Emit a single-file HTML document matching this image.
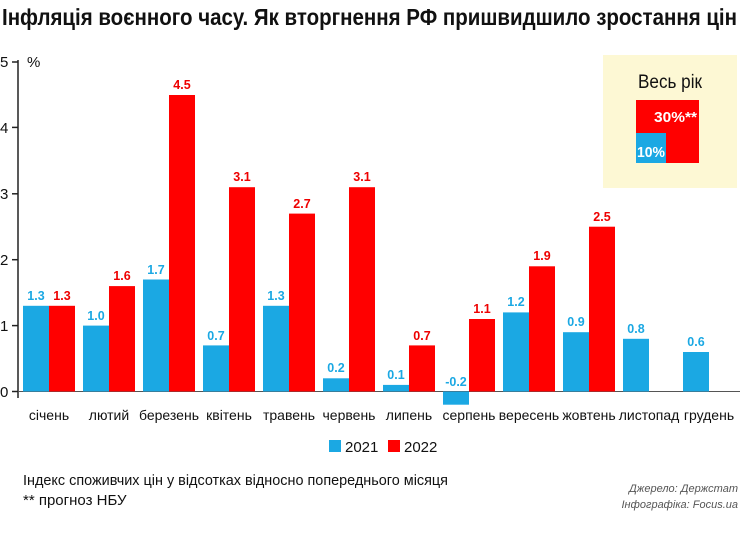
<!DOCTYPE html>
<html><head><meta charset="utf-8"><style>
html,body{margin:0;padding:0;background:#fff;}
svg{display:block;font-family:"Liberation Sans",sans-serif;}
.b{fill:#1ba8e3}.r{fill:#ff0000}
.lb{font-weight:bold;font-size:12.5px;text-anchor:middle;fill:#1ba8e3}
.lr{font-weight:bold;font-size:12.5px;text-anchor:middle;fill:#ee0000}
.m{font-size:14px;text-anchor:middle;fill:#111}
.t{font-size:15px;fill:#111}
</style></head><body>
<svg width="740" height="533" viewBox="0 0 740 533">
<text x="2" y="25" font-size="23" font-weight="bold" fill="#111" textLength="735" lengthAdjust="spacingAndGlyphs">Інфляція воєнного часу. Як вторгнення РФ пришвидшило зростання цін</text>
<rect x="603" y="55" width="134" height="133" fill="#fdf8d4"/>
<text x="670" y="88" font-size="19" text-anchor="middle" fill="#111" textLength="64" lengthAdjust="spacingAndGlyphs">Весь рік</text>
<rect x="636" y="100" width="63" height="63" fill="#ff0000"/>
<rect x="636" y="133" width="30" height="30" fill="#1ba8e3"/>
<text x="697" y="122" font-size="15" font-weight="bold" fill="#fff" text-anchor="end" textLength="43" lengthAdjust="spacingAndGlyphs">30%**</text>
<text x="637" y="157" font-size="15" font-weight="bold" fill="#fff" textLength="28" lengthAdjust="spacingAndGlyphs">10%</text>
<line x1="18" y1="60" x2="18" y2="398" stroke="#222" stroke-width="1.5"/>
<line x1="18" y1="391.5" x2="740" y2="391.5" stroke="#555" stroke-width="1"/>
<g stroke="#222" stroke-width="1.5">
<line x1="12" y1="62" x2="18" y2="62"/><line x1="12" y1="127.4" x2="18" y2="127.4"/><line x1="12" y1="193.8" x2="18" y2="193.8"/><line x1="12" y1="259.7" x2="18" y2="259.7"/><line x1="12" y1="325.6" x2="18" y2="325.6"/><line x1="12" y1="391.5" x2="18" y2="391.5"/>
</g>
<g class="t" font-size="15">
<text x="0" y="67">5</text><text x="0" y="133">4</text><text x="0" y="199">3</text><text x="0" y="265">2</text><text x="0" y="331">1</text><text x="0" y="397">0</text>
<text x="27" y="67">%</text>
</g>
<g>
<rect class="b" x="23" y="305.8" width="26" height="85.7"/><rect class="r" x="49" y="305.8" width="26" height="85.7"/>
<rect class="b" x="83" y="325.6" width="26" height="65.9"/><rect class="r" x="109" y="286.1" width="26" height="105.4"/>
<rect class="b" x="143" y="279.5" width="26" height="112"/><rect class="r" x="169" y="95" width="26" height="296.5"/>
<rect class="b" x="203" y="345.4" width="26" height="46.1"/><rect class="r" x="229" y="187.2" width="26" height="204.3"/>
<rect class="b" x="263" y="305.8" width="26" height="85.7"/><rect class="r" x="289" y="213.6" width="26" height="177.9"/>
<rect class="b" x="323" y="378.3" width="26" height="13.2"/><rect class="r" x="349" y="187.2" width="26" height="204.3"/>
<rect class="b" x="383" y="384.9" width="26" height="6.6"/><rect class="r" x="409" y="345.4" width="26" height="46.1"/>
<rect class="b" x="443" y="391.5" width="26" height="13.2"/><rect class="r" x="469" y="319" width="26" height="72.5"/>
<rect class="b" x="503" y="312.4" width="26" height="79.1"/><rect class="r" x="529" y="266.3" width="26" height="125.2"/>
<rect class="b" x="563" y="332.2" width="26" height="59.3"/><rect class="r" x="589" y="226.7" width="26" height="164.8"/>
<rect class="b" x="623" y="338.8" width="26" height="52.7"/>
<rect class="b" x="683" y="352" width="26" height="39.5"/>
</g>
<g>
<text class="lb" x="36" y="300">1.3</text><text class="lr" x="62" y="300">1.3</text>
<text class="lb" x="96" y="320">1.0</text><text class="lr" x="122" y="280">1.6</text>
<text class="lb" x="156" y="274">1.7</text><text class="lr" x="182" y="89">4.5</text>
<text class="lb" x="216" y="340">0.7</text><text class="lr" x="242" y="181">3.1</text>
<text class="lb" x="276" y="300">1.3</text><text class="lr" x="302" y="208">2.7</text>
<text class="lb" x="336" y="372">0.2</text><text class="lr" x="362" y="181">3.1</text>
<text class="lb" x="396" y="379">0.1</text><text class="lr" x="422" y="340">0.7</text>
<text class="lb" x="456" y="386">-0.2</text><text class="lr" x="482" y="313">1.1</text>
<text class="lb" x="516" y="306">1.2</text><text class="lr" x="542" y="260">1.9</text>
<text class="lb" x="576" y="326">0.9</text><text class="lr" x="602" y="221">2.5</text>
<text class="lb" x="636" y="333">0.8</text>
<text class="lb" x="696" y="346">0.6</text>
</g>
<g class="m">
<text x="49" y="420">січень</text><text x="109" y="420">лютий</text><text x="169" y="420">березень</text><text x="229" y="420">квітень</text><text x="289" y="420">травень</text><text x="349" y="420">червень</text><text x="409" y="420">липень</text><text x="469" y="420">серпень</text><text x="529" y="420">вересень</text><text x="589" y="420">жовтень</text><text x="649" y="420">листопад</text><text x="709" y="420">грудень</text>
</g>
<rect x="329" y="440" width="12" height="12" fill="#1ba8e3"/>
<text x="345" y="452" font-size="15" fill="#111">2021</text>
<rect x="388" y="440" width="12" height="12" fill="#ff0000"/>
<text x="404" y="452" font-size="15" fill="#111">2022</text>
<text x="23" y="485" class="t" textLength="425" lengthAdjust="spacingAndGlyphs">Індекс споживчих цін у відсотках відносно попереднього місяця</text>
<text x="23" y="505" class="t">** прогноз НБУ</text>
<text x="738" y="492" font-size="11" font-style="italic" fill="#555" text-anchor="end">Джерело: Держстат</text>
<text x="738" y="508" font-size="11" font-style="italic" fill="#555" text-anchor="end">Інфографіка: Focus.ua</text>
</svg>
</body></html>
